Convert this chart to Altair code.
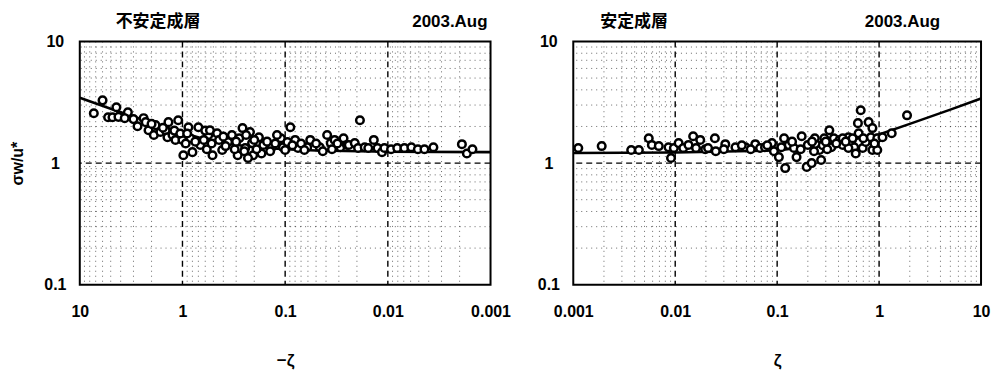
import altair as alt
import pandas as pd

# ---- data ----
# unstable (left panel): x = -zeta, y = sigma_w/u*
left_x = [7.3, 6.0, 5.3, 4.8, 4.4, 4.2, 3.4, 3.65, 3.0, 2.74, 2.39, 2.28, 2.14, 1.83, 1.9, 1.64, 1.46, 1.37,
          1.4, 1.25, 1.1, 1.17, 1.0, 0.98, 0.875, 0.84, 0.8, 0.7, 0.67, 0.56, 0.51,
          2.0, 1.55, 1.2, 1.05, 0.93, 0.9, 0.75, 0.62, 0.6, 0.58, 0.52,
          0.54, 0.46, 0.41, 0.36, 0.29, 0.28, 0.26, 0.245, 0.22, 0.21, 0.205, 0.18, 0.17, 0.163, 0.135,
          0.11, 0.105, 0.095, 0.089, 0.08, 0.075, 0.061, 0.057, 0.046, 0.039, 0.036, 0.033, 0.029, 0.027, 0.025,
          0.44, 0.4, 0.38, 0.33, 0.31, 0.3, 0.25, 0.24, 0.23, 0.2, 0.19, 0.15, 0.14, 0.125, 0.12, 0.1,
          0.085, 0.07, 0.065, 0.05, 0.043, 0.035, 0.031,
          0.0187, 0.024, 0.021, 0.0195, 0.0168, 0.0155, 0.0137, 0.0126, 0.0114, 0.0108, 0.0093, 0.0081,
          0.0069, 0.0059, 0.0051, 0.0044, 0.0036, 0.0019, 0.0017, 0.0015]
left_y = [2.57, 3.28, 2.38, 2.38, 2.88, 2.4, 2.62, 2.34, 2.3, 2.01, 2.34, 2.17, 1.86, 2.05, 1.7, 1.8, 1.86, 2.17,
          1.63, 1.7, 2.25, 1.55, 1.55, 1.16, 1.97, 1.6, 1.23, 1.97, 1.41, 1.7, 1.16,
          2.1, 1.95, 1.85, 1.75, 1.45, 1.75, 1.5, 1.55, 1.85, 1.3, 1.45,
          1.86, 1.76, 1.28, 1.49, 1.16, 1.6, 1.94, 1.33, 1.8, 1.46, 1.16, 1.63, 1.2, 1.41, 1.35,
          1.6, 1.35, 1.49, 1.97, 1.55, 1.33, 1.35, 1.55, 1.35, 1.7, 1.46, 1.55, 1.35, 1.6, 1.41,
          1.55, 1.65, 1.38, 1.7, 1.3, 1.5, 1.25, 1.7, 1.1, 1.55, 1.3, 1.5, 1.25, 1.45, 1.7, 1.28,
          1.4, 1.45, 1.28, 1.45, 1.25, 1.3, 1.45,
          2.25, 1.41, 1.46, 1.33, 1.35, 1.33, 1.55, 1.33, 1.23, 1.33, 1.3, 1.33,
          1.33, 1.35, 1.3, 1.3, 1.35, 1.43, 1.2, 1.3]

# stable (right panel): x = zeta
right_x = [0.00112, 0.0019, 0.0037, 0.0044, 0.0055, 0.0059, 0.0069, 0.0086, 0.0091, 0.0097, 0.0108, 0.012,
           0.0135, 0.015, 0.016, 0.0176, 0.0197, 0.021, 0.0245, 0.025, 0.031, 0.039, 0.049, 0.061, 0.068,
           0.076, 0.089, 0.093, 0.104, 0.117, 0.12, 0.13, 0.146, 0.155, 0.174, 0.195, 0.2, 0.218, 0.234,
           0.245, 0.26, 0.27, 0.29, 0.325, 0.34, 0.36, 0.41, 0.44, 0.5, 0.53, 0.57, 0.59, 0.62, 0.63, 0.66,
           0.69, 0.74, 0.79, 0.83, 0.86, 0.86, 0.96, 0.96, 1.08, 1.33, 1.88, 0.44, 0.5,
           0.03, 0.045, 0.055, 0.08, 0.11, 0.14, 0.17, 0.22, 0.28, 0.31, 0.38, 0.47, 0.55, 0.7, 0.9, 0.23, 0.3]
right_y = [1.33, 1.38, 1.28, 1.28, 1.6, 1.41, 1.38, 1.35, 1.1, 1.33, 1.46, 1.33,
           1.41, 1.66, 1.33, 1.55, 1.3, 1.33, 1.6, 1.25, 1.43, 1.35, 1.35, 1.43, 1.33,
           1.35, 1.46, 1.25, 1.12, 1.6, 0.91, 1.41, 1.33, 1.12, 1.66, 0.93, 1.41, 1.0, 1.6,
           1.41, 1.28, 1.06, 1.6, 1.86, 1.35, 1.6, 1.55, 1.41, 1.63, 1.49, 1.35, 1.2, 2.13, 1.76, 2.72,
           1.33, 1.49, 2.17, 1.63, 1.94, 1.28, 1.28, 1.6, 1.63, 1.76, 2.47, 1.6, 1.33,
           1.3, 1.4, 1.3, 1.4, 1.35, 1.5, 1.3, 1.5, 1.4, 1.3, 1.45, 1.5, 1.6, 1.6, 1.45, 1.25, 1.5]

# fitted curves
left_line_x = [10, 5, 2, 1, 0.5, 0.2, 0.1, 0.05, 0.01, 0.001]
left_line_y = [3.45, 2.8, 2.15, 1.78, 1.5, 1.35, 1.3, 1.27, 1.24, 1.23]
right_line_x = [0.001, 0.01, 0.1, 0.3, 1, 2, 5, 10]
right_line_y = [1.21, 1.22, 1.27, 1.42, 1.72, 2.1, 2.75, 3.4]

# tick / grid values
x_ticks = [0.001, 0.01, 0.1, 1, 10]
y_ticks = [0.1, 1, 10]
x_minor = [m * d for d in [0.001, 0.01, 0.1, 1] for m in range(2, 10)]
y_minor = [m * d for d in [0.1, 1] for m in range(2, 10)]
x_major = [0.01, 0.1, 1]
y_major = [1]

FONT = "Liberation Sans"
CJK = "Noto Sans CJK JP"


def panel(px, py, lx, ly, reverse, xtitle, ytitle, width, label_l, lab_l_x, lab_r_x):
    xs = alt.Scale(type="log", domain=[0.001, 10], reverse=reverse)
    ys = alt.Scale(type="log", domain=[0.1, 10])
    xaxis = alt.Axis(values=x_ticks, format="~g", ticks=False, domain=False, grid=False,
                     labelPadding=19, labelFont=FONT, labelFontSize=16, labelFontWeight="bold",
                     labelColor="black", labelFlush=False, labelBound=False, labelOverlap=False,
                     title=xtitle, titleFont=FONT, titleFontSize=17, titleFontWeight="bold",
                     titlePadding=33, titleColor="black")
    yargs = dict(values=y_ticks, format="~g", ticks=False, domain=False, grid=False,
                 labelPadding=25, labelAlign="center", labelFont=FONT, labelFontSize=16,
                 labelFontWeight="bold", labelColor="black", labelFlush=False, labelBound=False,
                 titleFont=FONT, titleFontSize=16, titleFontWeight="bold", titlePadding=18,
                 titleColor="black", title=ytitle)
    yaxis = alt.Axis(**yargs)

    minor_x = alt.Chart(pd.DataFrame({"v": x_minor})).mark_rule(
        color="black", strokeWidth=1, strokeDash=[1, 4], opacity=0.6
    ).encode(x=alt.X("v:Q", scale=xs, axis=xaxis))
    minor_y = alt.Chart(pd.DataFrame({"w": y_minor})).mark_rule(
        color="black", strokeWidth=1, strokeDash=[1, 4], opacity=0.6
    ).encode(y=alt.Y("w:Q", scale=ys, axis=yaxis))
    major_x = alt.Chart(pd.DataFrame({"v": x_major})).mark_rule(
        color="black", strokeWidth=1.4, strokeDash=[6, 4]
    ).encode(x=alt.X("v:Q", scale=xs, axis=xaxis))
    major_y = alt.Chart(pd.DataFrame({"w": y_major})).mark_rule(
        color="black", strokeWidth=1.4, strokeDash=[6, 4]
    ).encode(y=alt.Y("w:Q", scale=ys, axis=yaxis))
    line = alt.Chart(pd.DataFrame({"x": lx, "y": ly})).mark_line(
        color="black", strokeWidth=2.6
    ).encode(x=alt.X("x:Q", scale=xs, axis=xaxis), y=alt.Y("y:Q", scale=ys, axis=yaxis),
             order=alt.Order("x:Q"))
    pts = alt.Chart(pd.DataFrame({"x": px, "y": py})).mark_point(
        shape="circle", filled=False, fill="white", fillOpacity=1, stroke="black",
        strokeWidth=2.5, size=58, opacity=1
    ).encode(x=alt.X("x:Q", scale=xs, axis=xaxis), y=alt.Y("y:Q", scale=ys, axis=yaxis))
    t1 = alt.Chart(pd.DataFrame({"t": [label_l]})).mark_text(
        font=CJK, fontSize=17, fontWeight="bold", align="left", baseline="alphabetic", color="black"
    ).encode(x=alt.value(lab_l_x), y=alt.value(-14), text="t:N")
    t2 = alt.Chart(pd.DataFrame({"t": ["2003.Aug"]})).mark_text(
        font=FONT, fontSize=17, fontWeight="bold", align="right", baseline="alphabetic", color="black"
    ).encode(x=alt.value(lab_r_x), y=alt.value(-14), text="t:N")
    return alt.layer(minor_x, minor_y, major_x, major_y, line, pts, t1, t2).properties(
        width=width, height=244)


left = panel(left_x, left_y, left_line_x, left_line_y, True, "−ζ", "σw/u*", 412,
             "不安定成層", 36, 409)
right = panel(right_x, right_y, right_line_x, right_line_y, False, "ζ", None, 409,
              "安定成層", 27, 368)

chart = alt.hconcat(left, right, spacing=23).properties(
    padding={"left": 0, "top": 4, "right": 0, "bottom": 0}
).configure_view(stroke="black", strokeWidth=2).configure_concat(spacing=23)

chart.save("out.html", embed_options={"renderer": "svg", "actions": False})
